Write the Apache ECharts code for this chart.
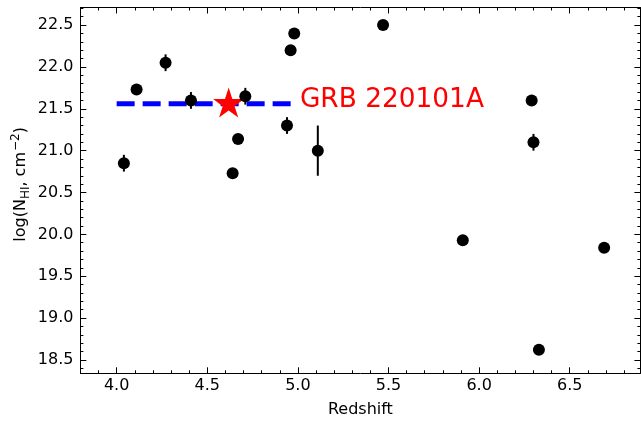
<!DOCTYPE html>
<html><head><meta charset="utf-8">
<script src="https://cdn.jsdelivr.net/npm/echarts@6/dist/echarts.min.js"></script>
<style>html,body{margin:0;padding:0;background:#fff}#c{width:641px;height:422px}</style>
</head><body><div id="c"></div>
<script>
// ---- data ----
const redshift  = [4.04, 4.11, 4.27, 4.41, 4.64, 4.67, 4.71, 4.94, 4.96, 4.98, 5.11, 5.47, 5.91, 6.29, 6.30, 6.33, 6.69];
const logNHI    = [20.85, 21.73, 22.05, 21.60, 20.73, 21.14, 21.65, 21.30, 22.20, 22.40, 21.00, 22.50, 19.93, 21.60, 21.10, 18.62, 19.84];
const logNHIErr = [0.10, 0.05, 0.10, 0.10, 0.05, 0.05, 0.10, 0.10, 0.05, 0.05, 0.30, 0.05, 0.05, 0.05, 0.10, 0.05, 0.05];
const grbName = 'GRB 220101A';
const grbRedshift = 4.618;
const grbLogNHI = 21.55;
const grbLineZ = [4.0, 5.0];
const grbLineNHI = 21.56;
// ---- axes ----
const xRange = [3.8, 6.89];
const yRange = [18.34, 22.71];
const xMajorTicks = [4.0, 4.5, 5.0, 5.5, 6.0, 6.5];
const xMinorTicks = [3.9, 4.1, 4.2, 4.3, 4.4, 4.6, 4.7, 4.8, 4.9, 5.1, 5.2, 5.3, 5.4, 5.6, 5.7, 5.8, 5.9, 6.1, 6.2, 6.3, 6.4, 6.6, 6.7, 6.8];
const yMajorTicks = [18.5, 19.0, 19.5, 20.0, 20.5, 21.0, 21.5, 22.0, 22.5];
const yMinorTicks = [18.4, 18.6, 18.7, 18.8, 18.9, 19.1, 19.2, 19.3, 19.4, 19.6, 19.7, 19.8, 19.9, 20.1, 20.2, 20.3, 20.4, 20.6, 20.7, 20.8, 20.9, 21.1, 21.2, 21.3, 21.4, 21.6, 21.7, 21.8, 21.9, 22.1, 22.2, 22.3, 22.4, 22.6, 22.7];
const xTitle = 'Redshift';

const FONT = 'DejaVu Sans';
const black = '#000';
const starPath = 'path://M0,-1L0.2245,-0.309L0.9511,-0.309L0.3633,0.118L0.5878,0.809L0,0.382L-0.5878,0.809L-0.3633,0.118L-0.9511,-0.309L-0.2245,-0.309Z';

function mkAxis(dim, pos, ticks, len, withLine, withLabel, extra) {
  const range = dim === 'x' ? xRange : yRange;
  return Object.assign({
    type: 'value', position: pos, min: range[0], max: range[1],
    axisLine: { show: withLine, onZero: false, lineStyle: { color: black, width: 1 } },
    axisTick: { show: true, inside: true, length: len, customValues: ticks, lineStyle: { color: black, width: 1 } },
    axisLabel: withLabel ? { show: true, customValues: ticks, formatter: v => v.toFixed(1), color: black, fontFamily: FONT, fontSize: 16, margin: dim === 'x' ? 5 : 7 } : { show: false },
    splitLine: { show: false }, minorTick: { show: false }
  }, extra || {});
}

const chart = echarts.init(document.getElementById('c'), null, { renderer: 'canvas' });
chart.setOption({
  animation: false,
  backgroundColor: '#fff',
  grid: { left: 80.4, right: 0.6, top: 7.5, bottom: 48.7, containLabel: false, outerBoundsMode: 'none' },
  xAxis: [
    mkAxis('x', 'bottom', xMajorTicks, 6, true, true, { name: xTitle, nameLocation: 'middle', nameGap: 29, nameMoveOverlap: false, nameTextStyle: { color: black, fontFamily: FONT, fontSize: 16 } }),
    mkAxis('x', 'bottom', xMinorTicks, 3, false, false),
    mkAxis('x', 'top', xMajorTicks, 6, true, false),
    mkAxis('x', 'top', xMinorTicks, 3, false, false)
  ],
  yAxis: [
    mkAxis('y', 'left', yMajorTicks, 6, true, true, {
      name: 'log(N{sub|HI}, cm{sup|−2})', nameLocation: 'middle', nameGap: 49, nameMoveOverlap: false,
      nameTextStyle: { color: black, fontFamily: FONT, fontSize: 16, lineHeight: 22, padding: [0, 0, 0, 12],
        rich: { sub: { fontFamily: FONT, fontSize: 12, lineHeight: 12, verticalAlign: 'bottom', color: black },
                sup: { fontFamily: FONT, fontSize: 12, lineHeight: 12, verticalAlign: 'top', color: black, padding: [0, 0, 0, 1] } } }
    }),
    mkAxis('y', 'left', yMinorTicks, 3, false, false),
    mkAxis('y', 'right', yMajorTicks, 6, true, false),
    mkAxis('y', 'right', yMinorTicks, 3, false, false)
  ],
  series: [
    {
      type: 'line', z: 1, xAxisIndex: 0, yAxisIndex: 0,
      data: grbLineZ.map(z => [z, grbLineNHI]),
      symbol: 'none', lineStyle: { color: '#0000ff', width: 5, type: [18, 8] },
      endLabel: { show: true, formatter: grbName, color: '#ff0000', fontFamily: FONT, fontSize: 26.4, distance: 2, offset: [0, -4] }
    },
    {
      type: 'scatter', z: 2, xAxisIndex: 0, yAxisIndex: 0,
      data: [[grbRedshift, grbLogNHI]],
      symbol: starPath, symbolSize: [31, 30], symbolOffset: [0, -2], symbolKeepAspect: false,
      itemStyle: { color: '#ff0000', opacity: 1 }
    },
    {
      type: 'custom', z: 3, xAxisIndex: 0, yAxisIndex: 0,
      data: redshift.map((z, i) => [z, logNHI[i], logNHIErr[i]]),
      encode: { x: 0, y: 1 },
      renderItem: function (params, api) {
        const x = api.value(0), y = api.value(1), e = api.value(2);
        const p1 = api.coord([x, y - e]), p2 = api.coord([x, y + e]);
        return { type: 'line', shape: { x1: p1[0], y1: p1[1], x2: p2[0], y2: p2[1] }, style: { stroke: black, lineWidth: 2 } };
      }
    },
    {
      type: 'scatter', z: 4, xAxisIndex: 0, yAxisIndex: 0,
      data: redshift.map((z, i) => [z, logNHI[i]]),
      symbol: 'circle', symbolSize: 12, itemStyle: { color: black, opacity: 1 }
    }
  ]
});
</script>
</body></html>
